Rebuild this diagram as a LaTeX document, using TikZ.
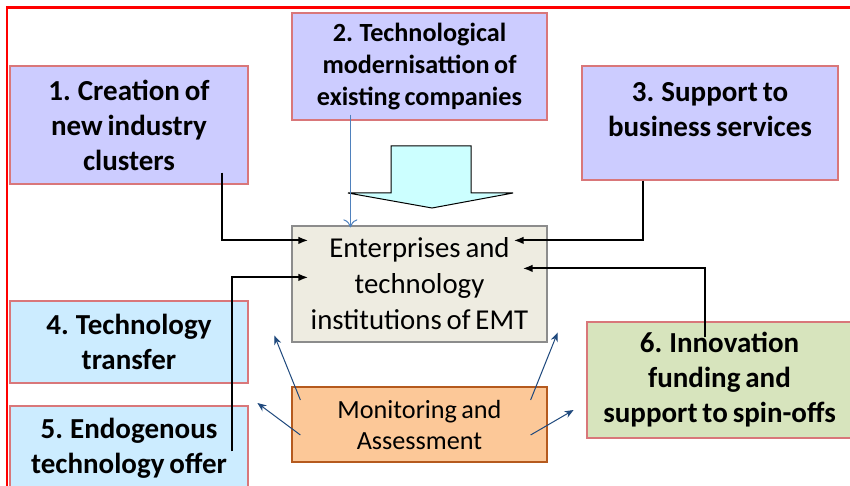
\documentclass[tikz,border=0pt]{standalone}
\usepackage{fontspec}
\setmainfont{Carlito}[WordSpace=0.75]
\usetikzlibrary{calc}
\usetikzlibrary{arrows.meta}
\definecolor{frame-red}{HTML}{FF0000}
\definecolor{goal-edge}{HTML}{D9777A}
\definecolor{goal-lilac}{HTML}{CCCCFF}
\definecolor{goal-sky}{HTML}{CCECFF}
\definecolor{goal-green}{HTML}{D7E4BD}
\definecolor{firm-fill}{HTML}{EEECE1}
\definecolor{firm-edge}{HTML}{8C8C8C}
\definecolor{eval-fill}{HTML}{FCC898}
\definecolor{eval-edge}{HTML}{B55A1E}
\definecolor{push-fill}{HTML}{CCFFFF}
\definecolor{thin-blue}{HTML}{4F81BD}
\definecolor{eval-blue}{HTML}{1F497D}

\begin{document}
\begin{tikzpicture}[
  x=0.5pt, y=-0.5pt,
  goal/.style={draw=goal-edge, line width=0.6pt, inner sep=0pt, align=center, font=\fontsize{14.5pt}{17.5pt}\selectfont\bfseries},
  firm/.style={draw=firm-edge, fill=firm-fill, line width=0.6pt, inner sep=0pt, align=center, font=\fontsize{14.4pt}{18pt}\selectfont},
  eval/.style={draw=eval-edge, fill=eval-fill, line width=0.6pt, inner sep=0pt, align=center, font=\fontsize{13.1pt}{15.5pt}\selectfont},
  link/.style={line width=1pt, -{Latex[length=5pt,width=3.8pt]}},
  feedback/.style={eval-blue, line width=0.5pt, -{Stealth[length=4.5pt,width=3.6pt]}}
]
\clip (0,0) rectangle (850,486);
\fill[white] (0,0) rectangle (850,486);

% Frame
\draw[frame-red, line width=1.2pt] (7,7.5) rectangle (880,520);

% Objectives
\node[goal, fill=goal-lilac, minimum width=119pt, minimum height=59pt] (clusters) at (129,125) {1. Creation of\\new industry\\clusters};
\node[goal, fill=goal-lilac, minimum width=127.5pt, minimum height=53.5pt, font=\fontsize{13.1pt}{15.8pt}\selectfont\bfseries] (modern) at (419.5,66.5) {2. Technological\\modernisattion of\\existing companies};
\node[goal, fill=goal-lilac, minimum width=128pt, minimum height=57pt] (services) at (710,123) {3. Support to\\business services\\[-4pt]\mbox{}};
\node[goal, fill=goal-sky, minimum width=119pt, minimum height=41pt] (transfer) at (129,342) {4. Technology\\transfer};
\node[goal, fill=goal-sky, minimum width=119pt, minimum height=42pt] (offer) at (129,448) {5. Endogenous\\technology offer};
\node[goal, fill=goal-green, minimum width=132.5pt, minimum height=58pt] (funding) at (719.5,380) {6. Innovation\\funding and\\support to spin-offs};

% Enterprises
\node[firm, minimum width=127.5pt, minimum height=58pt] (firms) at (419.5,284) {Enterprises and\\technology\\institutions of EMT};

% Monitoring
\node[eval, minimum width=127.5pt, minimum height=37.5pt] (assess) at (419.5,424.5) {Monitoring and\\Assessment};

% Block arrow
\filldraw[fill=push-fill, draw=black, line width=0.5pt] (391,146) -- (471,146) -- (471,193) -- (513,193) -- (432,208) -- (348,193) -- (391,193) -- cycle;

% Edges
\draw[thin-blue, line width=0.5pt, -{To[length=4pt,width=7pt]}] ($(modern.south west)+(59,-6)$) -- ($(firms.north west)+(59,2)$);
\draw[link] ($(clusters.south east)+(-27,-12)$) |- ($(firms.north west)+(17,15)$);
\draw[link] ($(services.south west)+(62,0)$) |- ($(firms.north east)+(-34,15)$);
\draw[link] ($(offer.north east)+(-17,46)$) |- ($(firms.north west)+(17,52)$);
\draw[link] ($(funding.north west)+(119,16)$) |- ($(firms.north east)+(-25,43)$);
\draw[feedback] ($(assess.west)+(9,-24.5)$) -- ($(firms.south west)+(-17,-7)$);
\draw[feedback] ($(assess.west)+(9,10.5)$) -- ($(assess.west)+(-34,-21.5)$);
\draw[feedback] ($(assess.east)+(-17,-24.5)$) -- ($(firms.south east)+(10,-10)$);
\draw[feedback] ($(assess.east)+(-17,10.5)$) -- ($(assess.east)+(26,-14.5)$);
\end{tikzpicture}
\end{document}
